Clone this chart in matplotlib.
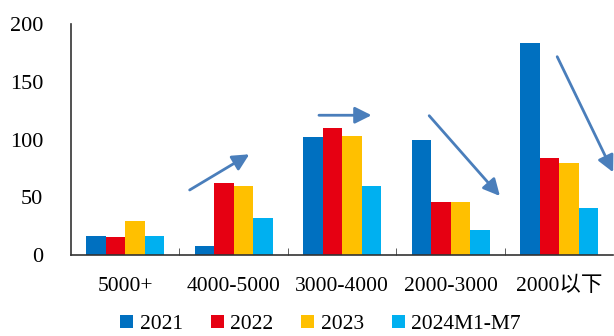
import numpy as np
import matplotlib.pyplot as plt

plt.rcParams['font.family'] = ['Liberation Serif', 'Noto Sans CJK SC']

categories = ['5000+', '4000-5000', '3000-4000', '2000-3000', '2000以下']
series = ['2021', '2022', '2023', '2024M1-M7']
v2021 = [16.5, 8, 102, 99.6, 183.5]
v2022 = [16, 62, 109.7, 46, 84]
v2023 = [29.5, 59.7, 103, 46, 79.7]
v2024 = [16.5, 31.7, 59.7, 22, 40.7]
colors = ['#0070C0', '#E60012', '#FFC000', '#00B0F0']

# trend arrows (start x, start y, end x, end y) in category/value units
arrows = [
    (0.594, 56.3, 1.144, 87.2),
    (1.786, 121, 2.271, 121),
    (2.802, 120.6, 3.454, 51.1),
    (3.982, 171.7, 4.498, 71.6),
]

fig = plt.figure(figsize=(6.14, 3.36), dpi=100)
ax = fig.add_axes([0.1156, 0.241, 0.8834, 0.6876])

x = np.arange(len(categories))
w = 0.18
for i, (vals, name) in enumerate(zip([v2021, v2022, v2023, v2024], series)):
    ax.bar(x + (i - 1.5) * w, vals, w, color=colors[i], label=name)

for x0, y0, x1, y1 in arrows:
    ax.annotate('', xy=(x1, y1), xytext=(x0, y0),
                arrowprops=dict(arrowstyle='-|>,head_length=1.0,head_width=0.5',
                                color='#4A7EBB', lw=2, shrinkA=0, shrinkB=0),
                annotation_clip=False)

ax.set_xlim(-0.5, len(categories) - 0.5)
ax.set_ylim(0, 200)
ax.set_yticks([0, 50, 100, 150, 200])
ax.tick_params(axis='y', length=0, labelsize=16, pad=20)
ax.set_xticks(x)
ax.set_xticklabels(categories)
ax.tick_params(axis='x', length=0, labelsize=15.5, pad=16)
ax.set_xticks(np.arange(0.5, len(categories) - 0.5), minor=True)
ax.tick_params(axis='x', which='minor', direction='in', length=5, color='#444444')
for s in ['top', 'right']:
    ax.spines[s].set_visible(False)
for s in ['left', 'bottom']:
    ax.spines[s].set_color('#333333')
    ax.spines[s].set_linewidth(1.2)

fig.legend(loc='lower center', bbox_to_anchor=(0.522, -0.052), ncol=4, frameon=False,
           fontsize=15.5, handlelength=0.6, handleheight=0.6, handletextpad=0.3,
           columnspacing=1.3)

fig.savefig('out.png', dpi=100)
